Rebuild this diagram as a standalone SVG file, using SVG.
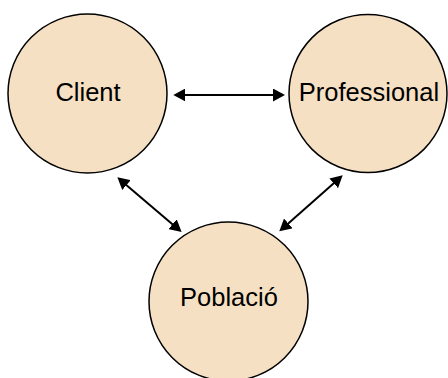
<svg xmlns="http://www.w3.org/2000/svg" width="448" height="378" viewBox="0 0 448 378">
  <style>
    .node circle { fill: #F5E0C3; stroke: #000; stroke-width: 1.5; }
    .node text { font-family: "Liberation Sans", Arial, sans-serif; font-size: 25.5px; fill: #000; text-anchor: middle; }
    .link { stroke: #000; stroke-width: 2; fill: none; marker-start: url(#arrow); marker-end: url(#arrow); }
  </style>
  <defs>
    <marker id="arrow" viewBox="0 0 12 13" refX="8" refY="6.5" markerWidth="12" markerHeight="13" markerUnits="userSpaceOnUse" orient="auto-start-reverse">
      <path d="M0,0 L12,6.5 L0,13 z" fill="#000"/>
    </marker>
  </defs>
  <rect width="448" height="378" fill="#fff"/>
  <g id="client" class="node">
    <circle cx="87.5" cy="93.5" r="79.5"/>
    <text x="88" y="101">Client</text>
  </g>
  <g id="professional" class="node">
    <circle cx="368" cy="93.5" r="79"/>
    <text x="369" y="101">Professional</text>
  </g>
  <g id="poblacio" class="node">
    <circle cx="228.5" cy="301.5" r="79.5"/>
    <text x="229" y="306">Població</text>
  </g>
  <g id="connectors">
    <line class="link" x1="177.3" y1="95" x2="281" y2="95"/>
    <line class="link" x1="120.4" y1="179.9" x2="178.6" y2="229.4"/>
    <line class="link" x1="339.7" y1="178" x2="282.3" y2="228.7"/>
  </g>
</svg>
